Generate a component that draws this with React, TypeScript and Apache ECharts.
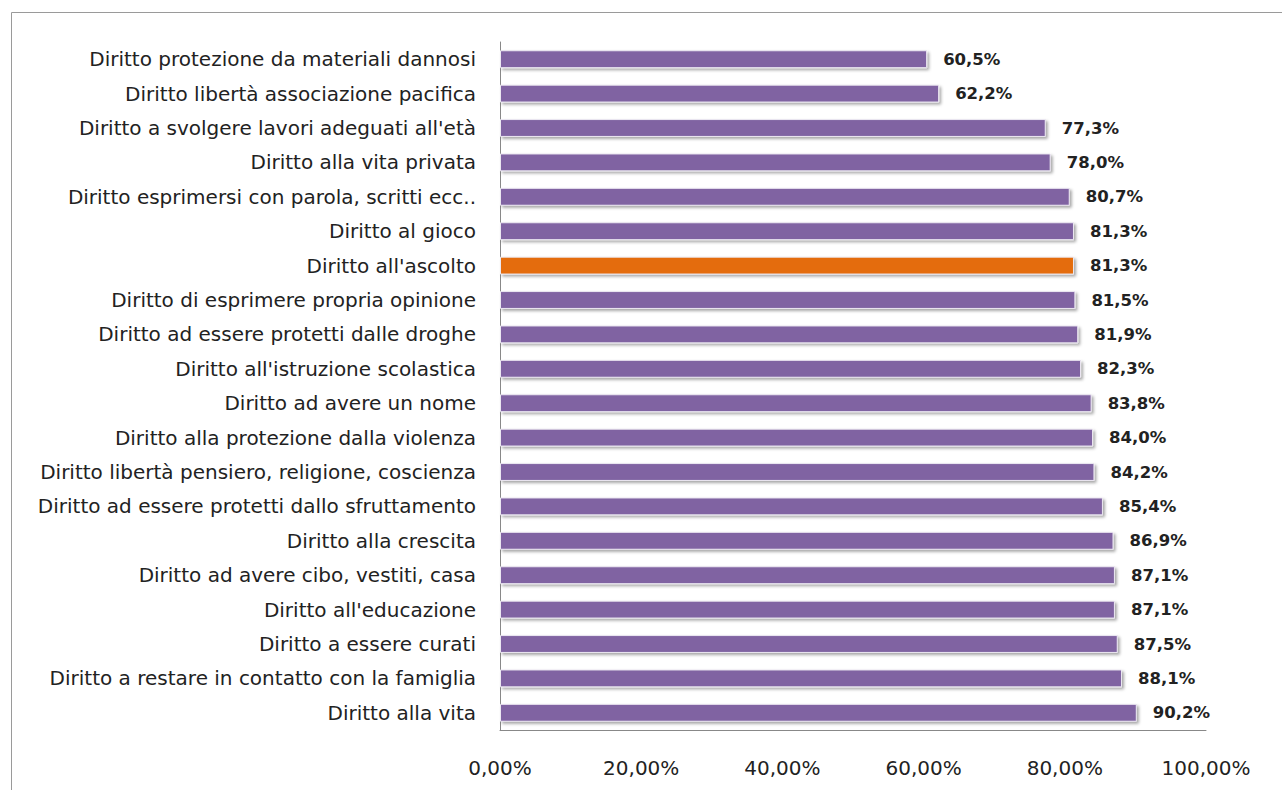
import React, { useEffect, useRef } from "react";
import * as echarts from "echarts";

const categories = [
  "Diritto protezione da materiali dannosi",
  "Diritto libertà associazione pacifica",
  "Diritto a svolgere lavori adeguati all'età",
  "Diritto alla vita privata",
  "Diritto esprimersi con parola, scritti ecc..",
  "Diritto al gioco",
  "Diritto all'ascolto",
  "Diritto di esprimere propria opinione",
  "Diritto ad essere protetti dalle droghe",
  "Diritto all'istruzione scolastica",
  "Diritto ad avere un nome",
  "Diritto alla protezione dalla violenza",
  "Diritto libertà pensiero, religione, coscienza",
  "Diritto ad essere protetti dallo sfruttamento",
  "Diritto alla crescita",
  "Diritto ad avere cibo, vestiti, casa",
  "Diritto all'educazione",
  "Diritto a essere curati",
  "Diritto a restare in contatto con la famiglia",
  "Diritto alla vita",
];

const values = [
  60.5, 62.2, 77.3, 78.0, 80.7, 81.3, 81.3, 81.5, 81.9, 82.3, 83.8, 84.0, 84.2,
  85.4, 86.9, 87.1, 87.1, 87.5, 88.1, 90.2,
];

const highlighted = "Diritto all'ascolto";

const PURPLE = "#8064A2";
const ORANGE = "#E46C0A";
const FONT = "DejaVu Sans";

export default function App() {
  const ref = useRef<HTMLDivElement>(null);
  useEffect(() => {
    if (!ref.current) return;
    const chart = echarts.init(ref.current, undefined, { renderer: "svg" });
    chart.setOption({
      animation: false,
      backgroundColor: "#ffffff",
      graphic: [
        {
          type: "rect",
          shape: { x: 11.5, y: 12.5, width: 1300, height: 800 },
          style: { fill: "none", stroke: "#9a9a9a", lineWidth: 1 },
          silent: true,
        },
      ],
      grid: { left: 500, right: 76, top: 42, bottom: 60, containLabel: false },
      xAxis: {
        type: "value",
        min: 0,
        max: 100,
        interval: 20,
        axisLine: { show: true, lineStyle: { color: "#888" } },
        axisTick: { show: false },
        splitLine: { show: false },
        axisLabel: {
          margin: 28,
          fontFamily: FONT,
          fontSize: 20,
          color: "#222",
          formatter: (v: number) => v.toFixed(2).replace(".", ",") + "%",
        },
      },
      yAxis: {
        type: "category",
        inverse: true,
        data: categories,
        axisLine: { show: true, lineStyle: { color: "#888", width: 1 } },
        axisTick: { show: false },
        axisLabel: {
          margin: 24,
          fontFamily: FONT,
          fontSize: 20,
          color: "#222",
        },
      },
      series: [
        {
          type: "bar",
          data: values.map((v, i) => ({
            value: v,
            itemStyle: { color: categories[i] === highlighted ? ORANGE : PURPLE },
          })),
          barWidth: "52%",
          itemStyle: {
            borderColor: "#ece8f2",
            borderWidth: 1,
            shadowColor: "rgba(0,0,0,0.35)",
            shadowBlur: 3,
            shadowOffsetX: 2,
            shadowOffsetY: 2,
          },
          label: {
            show: true,
            position: "right",
            distance: 16,
            fontFamily: FONT,
            fontWeight: "bold",
            fontSize: 16.5,
            color: "#222",
            formatter: (p: any) => p.value.toFixed(1).replace(".", ",") + "%",
          },
        },
      ],
    });
    return () => chart.dispose();
  }, []);
  return (
    <div
      ref={ref}
      style={{ position: "fixed", left: 0, top: 0, width: 1282, height: 790 }}
    />
  );
}
